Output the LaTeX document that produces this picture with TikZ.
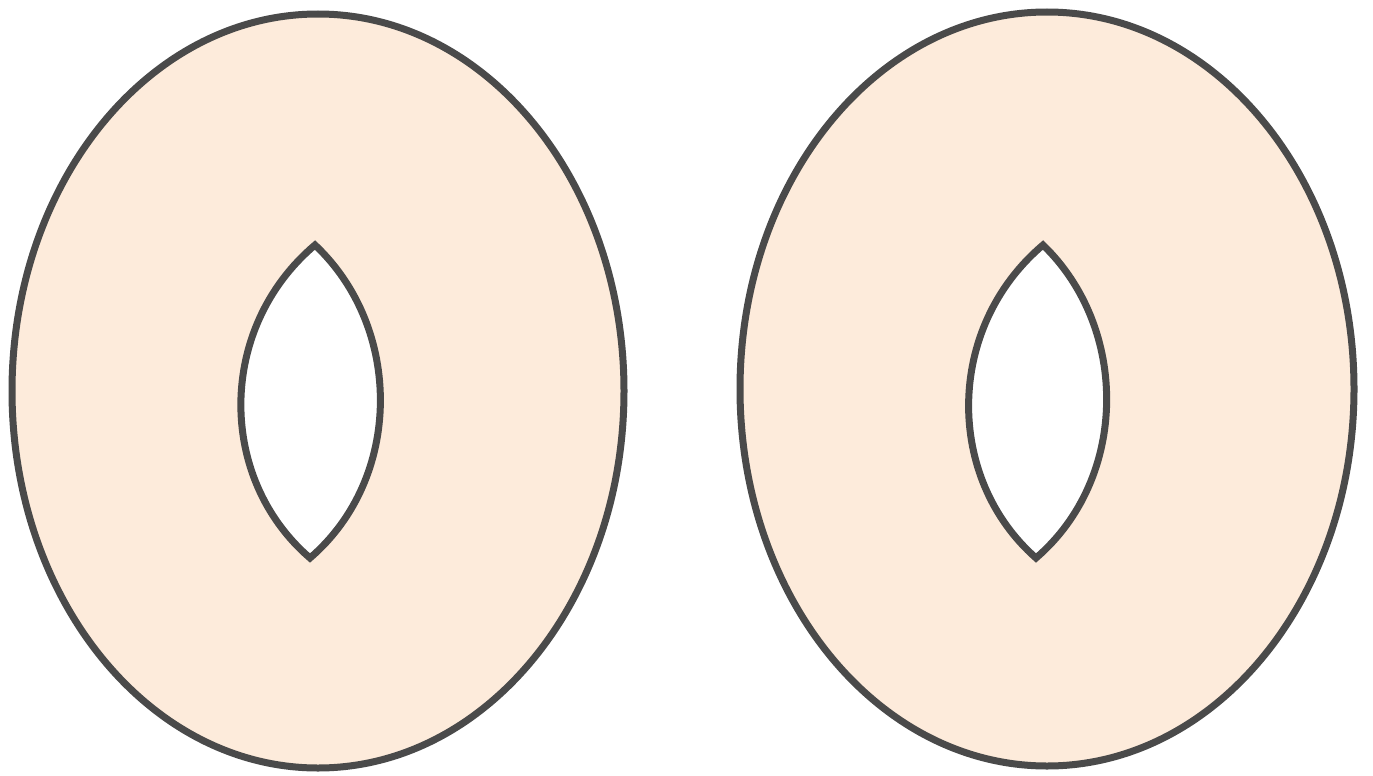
\documentclass[tikz,border=0pt]{standalone}
\definecolor{peach}{HTML}{FDEBDB}
\definecolor{ink}{HTML}{4A4A4A}
\tikzset{
  ring/.style={draw=ink, line width=7pt, fill=peach},
  hole/.style={draw=ink, line width=7pt, fill=white, line join=miter, miter limit=10}
}
\begin{document}
\begin{tikzpicture}[x=1pt,y=-1pt]
\useasboundingbox (0,0) rectangle (1373,776);
% left ring
\draw[ring] (318,391) ellipse [x radius=306, y radius=377];
\draw[hole] (315,245) .. controls (403,328) and (403,478) .. (310,558)
  .. controls (217,478) and (217,328) .. cycle;
% right ring
\draw[ring] (1047,389) ellipse [x radius=307, y radius=377];
\draw[hole] (1043,245) .. controls (1129,328) and (1129,478) .. (1036,558)
  .. controls (945,478) and (945,328) .. cycle;
\end{tikzpicture}
\end{document}
